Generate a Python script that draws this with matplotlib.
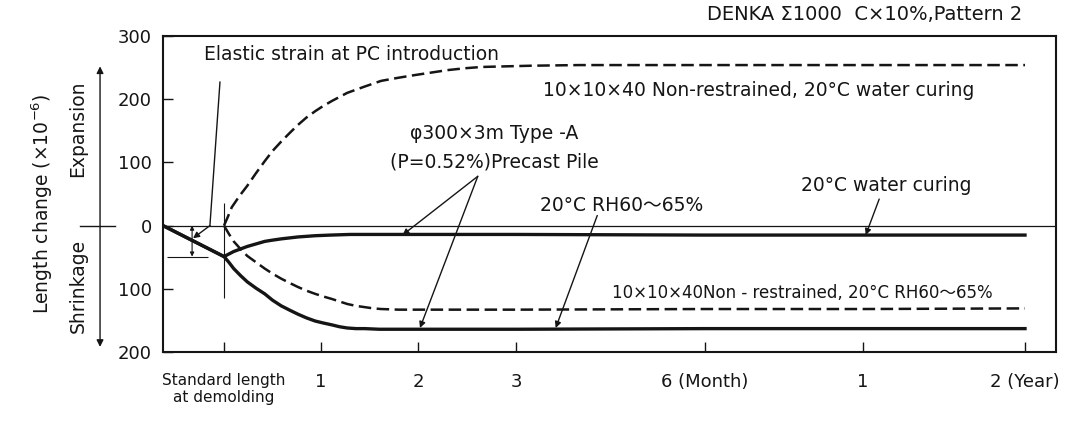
import numpy as np
import matplotlib
matplotlib.use("Agg")
import matplotlib.pyplot as plt

plt.rcParams['font.family'] = ['DejaVu Sans', 'Noto Sans CJK JP']
plt.rcParams['font.size'] = 13.5

# time axis of the figure is not linear: months -> position along the axis
axis_months = [-0.65, 0, 1, 2, 3, 6, 12, 24, 27]
axis_pos = [163, 224, 321, 418, 516, 705, 863, 1025, 1056]

tick_months = [0, 1, 2, 3, 6, 12, 24]
tick_labels = ['Standard length\nat demolding', '1', '2', '3', '6 (Month)', '1', '2 (Year)']
y_ticks = [-200, -100, 0, 100, 200, 300]
y_labels = ['200', '100', '0', '100', '200', '300']

# 10x10x40 non-restrained, 20C water curing
nr_water_t = [0, 0.04, 0.08, 0.16, 0.24, 0.33, 0.42, 0.5, 0.59, 0.68, 0.76, 0.85, 0.94, 1.02, 1.11,
              1.27, 1.45, 1.62, 1.8, 1.96, 2.13, 2.3, 2.48, 2.65, 2.9, 3.25, 4, 6, 12, 24]
nr_water_v = [0, 14, 29, 47, 63, 83, 102, 118, 133, 147, 159, 171, 181, 189, 197,
              210, 220, 229, 234, 238, 242, 246, 249, 251, 252, 253, 254, 254, 254, 254]
# 10x10x40 non-restrained, 20C RH60-65%
nr_dry_t = [0, 0.05, 0.10, 0.17, 0.24, 0.33, 0.42, 0.5, 0.59, 0.68, 0.76, 0.85, 0.94, 1.02, 1.11,
            1.19, 1.27, 1.36, 1.45, 1.54, 1.62, 1.8, 2, 3, 6, 12, 24]
nr_dry_v = [0, -13, -25, -37, -48, -58, -68, -76, -84, -91, -97, -103, -108, -112, -116,
            -120, -124, -127, -129, -131, -132, -133, -133, -133, -132, -132, -131]
# precast pile, 20C water curing
pile_water_t = [-0.65, 0, 0.05, 0.10, 0.17, 0.24, 0.33, 0.42, 0.5, 0.59, 0.76, 0.94, 1.1, 1.3, 3, 6, 12, 24]
pile_water_v = [0, -49, -45, -41, -37, -33, -29, -25, -23, -21, -18, -16, -15, -14, -14, -15, -15, -15]
# precast pile, 20C RH60-65%
pile_dry_t = [-0.65, 0, 0.05, 0.10, 0.17, 0.24, 0.33, 0.42, 0.5, 0.59, 0.68, 0.76, 0.85, 0.94, 1.02,
              1.11, 1.19, 1.27, 1.36, 1.45, 1.6, 2, 3, 6, 12, 24]
pile_dry_v = [0, -49, -58, -68, -79, -89, -99, -108, -118, -127, -134, -140, -146, -151, -154,
              -157, -160, -162, -163, -163, -164, -164, -164, -163, -163, -163]
# elastic strain at PC introduction
elastic = -49


def fwd(x):
    return np.interp(x, axis_months, axis_pos)


def inv(p):
    return np.interp(p, axis_pos, axis_months)


fig = plt.figure(figsize=(10.71, 4.23), dpi=100)
ax = fig.add_axes([163 / 1071, 71 / 423, 893 / 1071, 316 / 423])
ax.set_xscale('function', functions=(fwd, inv))
ax.set_xlim(axis_months[0], axis_months[-1])
ax.set_ylim(-200, 300)

ink = '#151515'
ax.plot(nr_water_t, nr_water_v, color=ink, lw=1.8, dashes=(5, 2.2))
ax.plot(nr_dry_t, nr_dry_v, color=ink, lw=1.8, dashes=(5, 2.2))
ax.plot(pile_water_t, pile_water_v, color=ink, lw=2.4, solid_joinstyle='round')
ax.plot(pile_dry_t, pile_dry_v, color=ink, lw=2.4, solid_joinstyle='round')
ax.axhline(0, color=ink, lw=0.9)

ax.set_xticks(tick_months)
ax.set_xticklabels(tick_labels)
ax.set_yticks(y_ticks)
ax.set_yticklabels(y_labels)
ax.tick_params(direction='in', length=7, width=1, colors=ink, labelsize=13)
ax.tick_params(axis='y', pad=8)
ax.tick_params(axis='x', pad=15)
ax.get_xticklabels()[0].set_fontsize(11)
for s in ax.spines.values():
    s.set_linewidth(1.5)
    s.set_color(ink)

# guides at demolding and the elastic strain bracket
ax.vlines(0, -115, 36, color=ink, lw=0.8)
ax.hlines(elastic, -0.607, -0.17, color=ink, lw=0.8)
ax.annotate('', xy=(-0.34, elastic), xytext=(-0.34, 0),
            arrowprops=dict(arrowstyle='<|-|>', lw=0.8, color=ink, mutation_scale=6, shrinkA=0, shrinkB=0))

arrow = dict(arrowstyle='-|>', lw=1, color=ink, mutation_scale=9, shrinkA=0, shrinkB=0)
ax.text(-0.21, 270, 'Elastic strain at PC introduction', ha='left', va='center', color=ink)
ax.plot([-0.043, -0.15], [227, 0], color=ink, lw=1)
ax.annotate('', xy=(-0.33, -20), xytext=(-0.15, 0), arrowprops=arrow)

ax.text(3.43, 214, '10×10×40 Non-restrained, 20°C water curing', ha='left', va='center', color=ink)
ax.text(2.78, 146, 'φ300×3m Type -A', ha='center', va='center', color=ink)
ax.text(2.78, 100, '(P=0.52%)Precast Pile', ha='center', va='center', color=ink)
ax.annotate('', xy=(1.84, -15), xytext=(2.61, 78), arrowprops=arrow)
ax.annotate('', xy=(2.02, -162), xytext=(2.61, 78), arrowprops=arrow)
ax.text(4.68, 32, '20°C RH60～65%', ha='center', va='center', color=ink)
ax.annotate('', xy=(3.63, -162), xytext=(4.29, 16), arrowprops=arrow)
ax.text(13.7, 64, '20°C water curing', ha='center', va='center', color=ink)
ax.annotate('', xy=(12.2, -15), xytext=(13.2, 42), arrowprops=arrow)
ax.text(9.7, -107, '10×10×40Non - restrained, 20°C RH60～65%', ha='center', va='center',
        color=ink, fontsize=12)

# left side: axis title and expansion / shrinkage arrow
yx = ax.get_yaxis_transform()
ax.text(-0.1355, 35, 'Length change (×10$^{-6}$)', rotation=90, ha='center', va='center',
        transform=yx, color=ink)
ax.text(-0.0952, 154, 'Expansion', rotation=90, ha='center', va='center', transform=yx, color=ink)
ax.text(-0.0952, -95, 'Shrinkage', rotation=90, ha='center', va='center', transform=yx, color=ink)
ax.annotate('', xy=(-0.0705, 252), xytext=(-0.0705, -192), xycoords=yx, textcoords=yx,
            annotation_clip=False,
            arrowprops=dict(arrowstyle='<|-|>', lw=1, color=ink, mutation_scale=10, shrinkA=0, shrinkB=0))
ax.plot([-0.093, -0.0538], [0, 0], transform=yx, clip_on=False, color=ink, lw=1)

fig.text(1022 / 1071, 1 - 15 / 423, 'DENKA Σ1000  C×10%,Pattern 2', ha='right', va='center',
         fontsize=14, color=ink)

fig.savefig('out.png', dpi=100)
